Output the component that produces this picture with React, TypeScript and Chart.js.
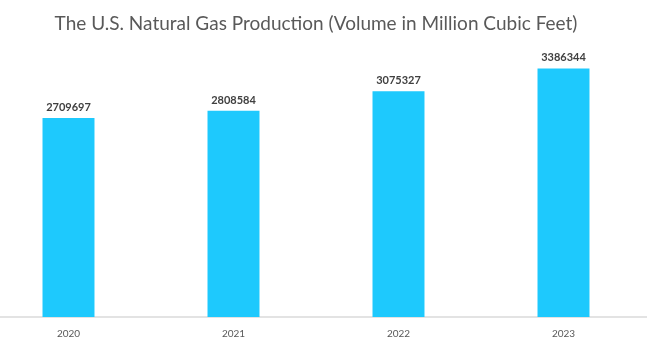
import React, { useEffect, useRef } from "react";
import { Chart, registerables } from "chart.js";

Chart.register(...registerables);

const title = "The U.S. Natural Gas Production (Volume in Million Cubic Feet)";
const categories = ["2020", "2021", "2022", "2023"];
const production = [2709697, 2808584, 3075327, 3386344];

const valueLabels = {
  id: "valueLabels",
  afterDatasetsDraw(chart: any) {
    const ctx = chart.ctx;
    const meta = chart.getDatasetMeta(0);
    ctx.save();
    ctx.font = "bold 11px Lato, 'Open Sans', sans-serif";
    ctx.fillStyle = "#404040";
    ctx.textAlign = "center";
    ctx.textBaseline = "bottom";
    meta.data.forEach((bar: any, i: number) => {
      ctx.fillText(String(production[i]), bar.x, bar.y - 5);
    });
    ctx.restore();
  },
};

export default function App() {
  const ref = useRef<HTMLCanvasElement>(null);
  useEffect(() => {
    if (!ref.current) return;
    const chart = new Chart(ref.current, {
      type: "bar",
      data: {
        labels: categories,
        datasets: [
          {
            data: production,
            backgroundColor: "#1ec9fd",
            barPercentage: 0.63,
            categoryPercentage: 0.5,
          },
        ],
      },
      options: {
        animation: false,
        responsive: true,
        maintainAspectRatio: false,
        layout: { padding: { left: 0, right: 12, top: 1, bottom: 4 } },
        plugins: {
          legend: { display: false },
          tooltip: { enabled: false },
          title: {
            display: true,
            text: title,
            color: "#595959",
            font: { family: "Lato, 'Open Sans', sans-serif", size: 19, weight: "normal" },
            padding: { top: 11, bottom: 15 },
          },
        },
        scales: {
          x: {
            grid: { display: false, drawTicks: false },
            border: { display: true, color: "#e3e3e3", width: 2 },
            ticks: {
              color: "#595959",
              font: { family: "Lato, 'Open Sans', sans-serif", size: 10 },
              padding: 11,
            },
          },
          y: {
            display: false,
            min: 0,
            max: 3640000,
          },
        },
      },
      plugins: [valueLabels],
    });
    return () => chart.destroy();
  }, []);
  return (
    <div style={{ position: "absolute", left: -14, top: 0, width: 672, height: 355 }}>
      <canvas ref={ref} />
    </div>
  );
}
